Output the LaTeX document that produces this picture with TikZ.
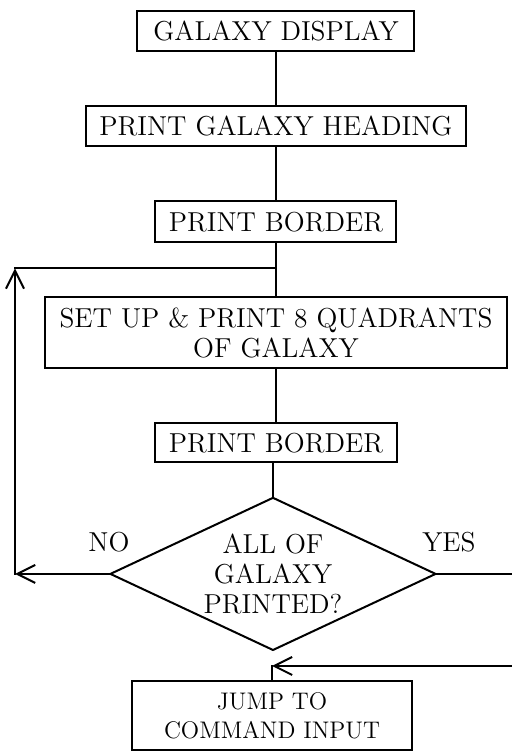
\documentclass[tikz,border=0pt]{standalone}
\usetikzlibrary{shapes.geometric,arrows.meta}
\begin{document}
\begin{tikzpicture} [
    auto,
    block/.style    = { rectangle, draw, line width=1pt, align=center,
                        inner xsep=2pt, inner ysep=0pt,
                        font=\fontsize{13.7pt}{15pt}\selectfont },
    decision/.style = { diamond, draw, line width=1pt, align=center,
                        inner sep=0pt, aspect=2.1,
                        minimum width=163pt, minimum height=76.5pt,
                        font=\fontsize{13.7pt}{15pt}\selectfont },
    tag/.style      = { font=\fontsize{13.7pt}{15pt}\selectfont },
    line/.style     = { draw, line width=1pt, line cap=rect },
    arrow/.style    = { line, -{Straight Barb[length=9pt,width=9pt]} },
  ]

  \useasboundingbox (-138pt,5pt) rectangle (118pt,-370.5pt);

  % Define nodes in matrix
  \matrix [row sep=26.5pt, inner sep=0pt, anchor=north] at (0,0) {
\node[block, minimum width=138.5pt, minimum height=20pt](display){GALAXY DISPLAY}; \\
\node[block, minimum width=190pt, minimum height=20pt](heading){PRINT GALAXY HEADING}; \\
\node[block, minimum width=120.5pt, minimum height=20.5pt](border1){PRINT BORDER}; \\
\node[block, minimum width=231pt, minimum height=35.5pt](setup){SET UP \& PRINT 8 QUADRANTS\\OF GALAXY}; \\
\node[block, minimum width=121pt, minimum height=19.5pt](border2){PRINT BORDER}; \\[-10pt]
\node[decision, xshift=-1.5pt](check){ALL OF\\GALAXY\\PRINTED?}; \\[-12pt]
\node[block, xshift=-2pt, minimum width=140pt, minimum height=34.5pt,
      font=\fontsize{12pt}{14.5pt}\selectfont](jump){JUMP TO\\COMMAND INPUT}; \\
  };

  \node[tag](no) at ([yshift=16pt]check.west) {NO};
  \node[tag](yes) at ([shift={(6pt,16pt)}]check.east) {YES};

  \coordinate (join) at ([yshift=14pt]setup.north);
  \coordinate (back) at ([yshift=7pt]jump.north);
  \coordinate (lft) at (-130.5pt,0);
  \coordinate (rgt) at (118.5pt,0);

  % connect the nodes
		\path [line] (display) -- (heading);
		\path [line] (heading) -- (border1);
		\path [line] (border1) -- (setup);
		\path [line] (setup) -- (border2);
		\path [line] (border2.south -| check.north) -- (check.north);
		\path [arrow] (check.west) -- (check.west -| lft);
		\path [arrow] (check.west -| lft) -- (join -| lft);
		\path [line] (join -| lft) -- (join);
		\path [line] (check.east) -- (check.east -| rgt) -- (back -| rgt);
		\path [arrow] (back -| rgt) -- (back);
		\path [line] (back) -- (jump.north);
\end{tikzpicture}
\end{document}
